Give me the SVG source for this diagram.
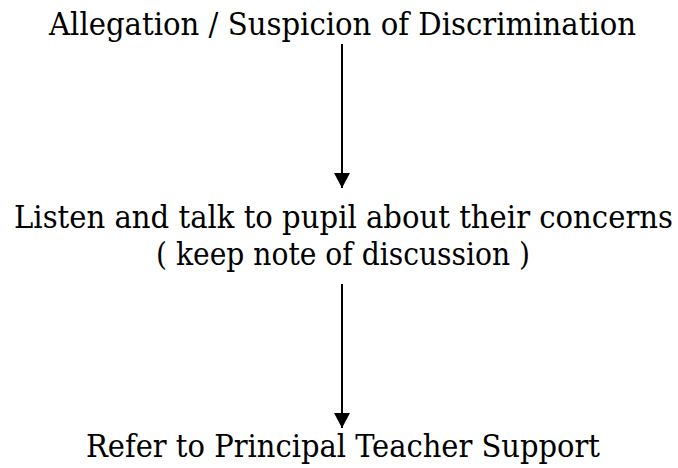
<svg xmlns="http://www.w3.org/2000/svg" width="678" height="468" viewBox="0 0 678 468">
  <style>
    .lbl { font-family: "DejaVu Serif Condensed", "DejaVu Serif", serif; font-size: 32px; fill: #000; }
    .conn { stroke: #000; stroke-width: 2; fill: none; }
  </style>
  <defs>
    <marker id="arrow" markerUnits="userSpaceOnUse" markerWidth="16" markerHeight="16" refX="15" refY="8" orient="auto">
      <path d="M0,0 L15,8 L0,16 Z" fill="#000"/>
    </marker>
  </defs>
  <rect width="678" height="468" fill="#fff"/>
  <g id="node-allegation">
    <text class="lbl" x="49" y="35" textLength="587" lengthAdjust="spacingAndGlyphs">Allegation / Suspicion of Discrimination</text>
  </g>
  <g id="node-listen">
    <text class="lbl" x="14" y="228" textLength="659" lengthAdjust="spacingAndGlyphs">Listen and talk to pupil about their concerns</text>
    <text class="lbl" x="156" y="265" textLength="374" lengthAdjust="spacingAndGlyphs">( keep note of discussion )</text>
  </g>
  <g id="node-refer">
    <text class="lbl" x="86" y="457" textLength="514" lengthAdjust="spacingAndGlyphs">Refer to Principal Teacher Support</text>
  </g>
  <g id="connectors">
    <line class="conn" x1="342" y1="44" x2="342" y2="188" marker-end="url(#arrow)"/>
    <line class="conn" x1="342" y1="284" x2="342" y2="428" marker-end="url(#arrow)"/>
  </g>
</svg>
